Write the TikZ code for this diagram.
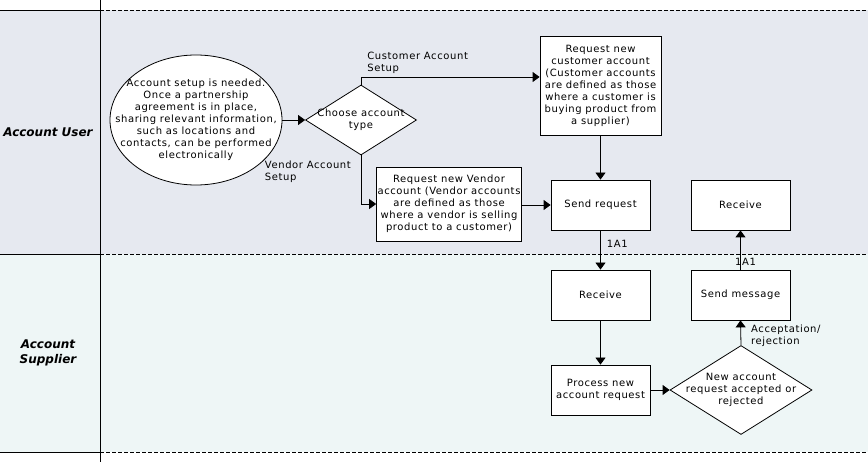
\documentclass[tikz,border=0pt]{standalone}
\usepackage{fontspec}
\setmainfont{DejaVu Sans}[LetterSpace=6]
\newfontfamily\lanefont{DejaVu Sans}
\usetikzlibrary{shapes.geometric,arrows.meta}
\definecolor{laneA}{RGB}{230,233,240}
\definecolor{laneB}{RGB}{238,246,246}
\tikzset{
  txt/.style={align=center, inner sep=0pt},
  lbl/.style={align=left, inner sep=1pt},
  box/.style n args={2}{draw, fill=white, line width=0.8pt, align=center, inner sep=1pt, minimum width=#1, minimum height=#2},
  dia/.style={diamond, draw, fill=white, line width=0.8pt, inner sep=0pt},
  flow/.style={draw, line width=0.8pt, -{Triangle[length=7pt,width=10pt]}},
  laneline/.style={line width=0.9pt, black},
  lanedash/.style={line width=0.9pt, black, dash pattern=on 4pt off 2pt},
  lanelabel/.style={font=\lanefont\fontsize{12}{15}\selectfont\bfseries\itshape, align=center, inner sep=0pt}
}
\begin{document}
\begin{tikzpicture}[x=1pt,y=-1pt, font=\fontsize{10}{12}\selectfont]
\useasboundingbox (0,0) rectangle (868,462);
\fill[white] (0,0) rectangle (868,462);
\fill[laneA] (0,10) rectangle (868,254);
\fill[laneB] (0,254) rectangle (868,452);
% lane lines
\draw[laneline] (0,10) -- (100,10);
\draw[lanedash] (100,10) -- (868,10);
\draw[laneline] (0,254) -- (100,254);
\draw[lanedash] (100,254) -- (868,254);
\draw[laneline] (0,452) -- (100,452);
\draw[lanedash] (100,452) -- (868,452);
\draw[laneline] (100,0) -- (100,462);
% lane labels
\node[lanelabel] (laneUser) at (48,132) {Account User};
\node[lanelabel] (laneSupp) at (48,353) {Account\\Supplier};
% nodes
\node[ellipse, draw, fill=white, line width=0.8pt, inner sep=0pt, minimum width=172pt, minimum height=130pt,
  label={[txt]center:{Account setup is needed.\\Once a partnership\\agreement is in place,\\sharing relevant information,\\such as locations and\\contacts, can be performed\\electronically}}] (ell) at (196,120) {};
\node[dia, minimum width=111pt, minimum height=70pt,
  label={[txt]center:{Choose account\\type}}] (choose) at (361,120) {};
\node[box={121pt}{99pt}] (cust) at (600.5,85.5) {Request new\\customer account\\(Customer accounts\\are defined as those\\where a customer is\\buying product from\\a supplier)};
\node[box={144pt}{74pt}] (vend) at (449,204) {Request new Vendor\\account (Vendor accounts\\are defined as those\\where a vendor is selling\\product to a customer)};
\node[box={99pt}{50pt}] (send) at (600.5,205) {Send request};
\node[box={99pt}{50pt}] (recvU) at (740.5,205) {Receive};
\node[box={99pt}{50pt}] (recvS) at (600.5,295) {Receive};
\node[box={99pt}{50pt}] (sendmsg) at (740.5,295) {Send message};
\node[box={99pt}{50pt}] (proc) at (600.5,390) {Process new\\account request};
\node[dia, minimum width=142pt, minimum height=89pt,
  label={[txt]center:{New account\\request accepted or\\rejected}}] (dec) at (741,390) {};
% connectors
\draw[flow] (ell.east) -- (choose.west);
\draw[flow] (choose.north) |- node[pos=0.5, lbl, anchor=south west, xshift=5pt, yshift=2pt] {Customer Account\\Setup} ([yshift=8.5pt]cust.west);
\draw[flow] (choose.south) |- (vend.west);
\node[lbl, anchor=north east] (vlab) at ([xshift=-9pt,yshift=-4pt]choose.south) {Vendor Account\\Setup};
\draw[flow] (vend.east |- send.west) -- (send.west);
\draw[flow] (cust.south) -- (send.north);
\draw[flow] (send.south) -- node[pos=0.35, lbl, anchor=west, xshift=5pt] {1A1} (recvS.north);
\draw[flow] (recvS.south) -- (proc.north);
\draw[flow] (proc.east) -- (proc.east -| dec.west);
\draw[flow] (dec.north) -- node[pos=0.38, lbl, anchor=west, xshift=9pt] {Acceptation/\\rejection} (sendmsg.south);
\draw[flow] (sendmsg.north) -- node[pos=0.2, lbl, xshift=5pt] {1A1} (recvU.south);
\end{tikzpicture}
\end{document}
